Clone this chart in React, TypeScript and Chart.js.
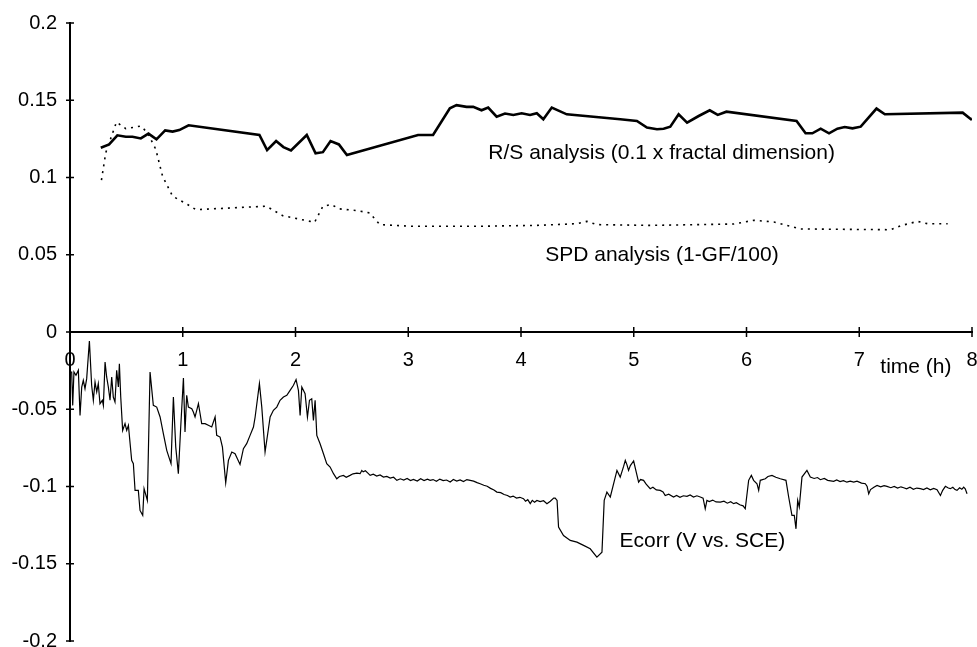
import React, { useEffect, useRef } from "react";
import { Chart, registerables } from "chart.js";
Chart.register(...registerables);

// R/S analysis (0.1 x fractal dimension)
const rsTime = [0.273, 0.347, 0.42, 0.495, 0.554, 0.628, 0.696, 0.767, 0.844, 0.91, 0.969, 1.052, 1.68, 1.748, 1.828, 1.893, 1.96, 2.1, 2.178, 2.243, 2.311, 2.385, 2.456, 3.087, 3.22, 3.369, 3.428, 3.517, 3.576, 3.65, 3.709, 3.784, 3.858, 3.932, 4.006, 4.08, 4.14, 4.198, 4.273, 4.406, 4.88, 5.028, 5.117, 5.206, 5.265, 5.324, 5.398, 5.473, 5.576, 5.674, 5.745, 5.822, 6.444, 6.524, 6.584, 6.658, 6.732, 6.806, 6.871, 6.94, 7.013, 7.153, 7.227, 7.917, 7.991, 8.0];
const rsValue = [0.1193, 0.1214, 0.1273, 0.1264, 0.1264, 0.1253, 0.1284, 0.1247, 0.1305, 0.1297, 0.1307, 0.1338, 0.1275, 0.1177, 0.1236, 0.1197, 0.1175, 0.1275, 0.1156, 0.1164, 0.1236, 0.1214, 0.1145, 0.1275, 0.1275, 0.1448, 0.1468, 0.1457, 0.1457, 0.1435, 0.1453, 0.1394, 0.1414, 0.1405, 0.1416, 0.1405, 0.1416, 0.1377, 0.1453, 0.1409, 0.1377, 0.1366, 0.1323, 0.1312, 0.1316, 0.1329, 0.1409, 0.1355, 0.1398, 0.1435, 0.1405, 0.1426, 0.1366, 0.1286, 0.1286, 0.1316, 0.1286, 0.1316, 0.1327, 0.1318, 0.1329, 0.1446, 0.1409, 0.142, 0.1377, 0.138];

// SPD analysis (1-GF/100)
const spdTime = [0.279, 0.317, 0.412, 0.495, 0.628, 0.687, 0.761, 0.821, 0.91, 1.043, 1.117, 1.74, 1.887, 2.169, 2.243, 2.317, 2.391, 2.539, 2.658, 2.747, 3.043, 3.576, 4.14, 4.495, 4.584, 4.673, 5.147, 5.887, 6.065, 6.243, 6.48, 7.28, 7.369, 7.517, 7.606, 7.784];
const spdValue = [0.0983, 0.116, 0.1359, 0.1316, 0.1333, 0.129, 0.1182, 0.1008, 0.0879, 0.0825, 0.0792, 0.0814, 0.0753, 0.071, 0.0814, 0.0825, 0.0797, 0.0786, 0.0771, 0.0695, 0.0684, 0.0684, 0.069, 0.0701, 0.0716, 0.0695, 0.069, 0.0699, 0.0723, 0.0712, 0.0667, 0.0662, 0.0688, 0.0716, 0.0701, 0.0701];

// Ecorr (V vs. SCE)
const ecorrTime = [0.0, 0.015, 0.024, 0.035, 0.053, 0.074, 0.089, 0.104, 0.118, 0.133, 0.148, 0.172, 0.192, 0.207, 0.222, 0.237, 0.251, 0.266, 0.287, 0.296, 0.311, 0.325, 0.34, 0.355, 0.37, 0.384, 0.399, 0.414, 0.429, 0.438, 0.45, 0.467, 0.488, 0.503, 0.518, 0.547, 0.562, 0.577, 0.606, 0.621, 0.645, 0.657, 0.686, 0.71, 0.739, 0.769, 0.799, 0.828, 0.858, 0.896, 0.917, 0.938, 0.961, 0.982, 1.006, 1.02, 1.035, 1.05, 1.08, 1.094, 1.109, 1.124, 1.139, 1.154, 1.168, 1.198, 1.227, 1.257, 1.287, 1.301, 1.331, 1.352, 1.381, 1.405, 1.435, 1.464, 1.508, 1.538, 1.567, 1.597, 1.627, 1.642, 1.68, 1.701, 1.73, 1.76, 1.775, 1.804, 1.834, 1.863, 1.893, 1.923, 1.952, 1.982, 2.005, 2.026, 2.041, 2.056, 2.085, 2.106, 2.124, 2.144, 2.159, 2.174, 2.189, 2.218, 2.248, 2.277, 2.307, 2.337, 2.366, 2.39, 2.425, 2.45, 2.484, 2.51, 2.544, 2.573, 2.588, 2.6, 2.62, 2.64, 2.662, 2.69, 2.72, 2.75, 2.78, 2.81, 2.84, 2.87, 2.899, 2.93, 2.96, 2.99, 3.02, 3.046, 3.08, 3.11, 3.14, 3.17, 3.194, 3.22, 3.25, 3.28, 3.31, 3.34, 3.372, 3.4, 3.43, 3.46, 3.49, 3.52, 3.549, 3.58, 3.61, 3.638, 3.67, 3.7, 3.73, 3.76, 3.786, 3.82, 3.85, 3.88, 3.904, 3.93, 3.96, 3.99, 4.022, 4.04, 4.06, 4.082, 4.1, 4.12, 4.141, 4.17, 4.2, 4.23, 4.26, 4.29, 4.303, 4.32, 4.333, 4.377, 4.437, 4.496, 4.555, 4.614, 4.673, 4.718, 4.738, 4.762, 4.792, 4.851, 4.88, 4.91, 4.925, 4.94, 4.954, 4.97, 4.999, 5.02, 5.043, 5.06, 5.087, 5.11, 5.146, 5.17, 5.2, 5.235, 5.26, 5.279, 5.31, 5.353, 5.38, 5.41, 5.44, 5.472, 5.5, 5.53, 5.56, 5.59, 5.615, 5.634, 5.649, 5.67, 5.7, 5.73, 5.768, 5.8, 5.83, 5.86, 5.886, 5.91, 5.94, 5.97, 5.989, 6.019, 6.043, 6.063, 6.093, 6.108, 6.122, 6.167, 6.19, 6.226, 6.26, 6.3, 6.35, 6.374, 6.403, 6.424, 6.439, 6.454, 6.468, 6.492, 6.536, 6.566, 6.6, 6.63, 6.655, 6.69, 6.72, 6.773, 6.8, 6.83, 6.86, 6.89, 6.92, 6.951, 6.98, 7.02, 7.054, 7.07, 7.084, 7.1, 7.13, 7.158, 7.19, 7.22, 7.246, 7.28, 7.31, 7.34, 7.37, 7.394, 7.42, 7.45, 7.48, 7.51, 7.542, 7.57, 7.6, 7.63, 7.66, 7.69, 7.72, 7.74, 7.764, 7.79, 7.808, 7.83, 7.85, 7.867, 7.89, 7.91, 7.926, 7.94, 7.956];
const ecorrValue = [-0.0259, -0.0259, -0.0475, -0.0259, -0.028, -0.0248, -0.054, -0.0356, -0.0313, -0.0367, -0.0302, -0.0058, -0.0345, -0.0442, -0.0324, -0.0388, -0.0334, -0.0464, -0.0442, -0.0475, -0.0194, -0.0291, -0.0356, -0.0442, -0.0291, -0.0421, -0.0453, -0.0248, -0.0356, -0.0205, -0.0421, -0.0637, -0.0593, -0.0637, -0.0604, -0.0831, -0.0852, -0.1025, -0.1025, -0.1155, -0.1187, -0.1014, -0.109, -0.0259, -0.0475, -0.0486, -0.055, -0.0658, -0.0766, -0.0852, -0.0421, -0.0745, -0.0917, -0.0615, -0.0298, -0.0647, -0.041, -0.0486, -0.0496, -0.0518, -0.055, -0.0507, -0.0464, -0.0529, -0.0593, -0.0593, -0.0604, -0.0615, -0.055, -0.0669, -0.068, -0.0745, -0.0976, -0.0831, -0.0777, -0.0788, -0.0857, -0.0755, -0.0723, -0.0669, -0.0615, -0.055, -0.0334, -0.0486, -0.0777, -0.0626, -0.055, -0.0507, -0.0486, -0.0442, -0.0421, -0.041, -0.0378, -0.0345, -0.0308, -0.0378, -0.054, -0.0356, -0.0399, -0.055, -0.0442, -0.0432, -0.0572, -0.0442, -0.0669, -0.0723, -0.0788, -0.0852, -0.0874, -0.0917, -0.095, -0.0935, -0.0928, -0.094, -0.0928, -0.0918, -0.0913, -0.0917, -0.0896, -0.0905, -0.0898, -0.0912, -0.0928, -0.092, -0.0932, -0.0925, -0.0939, -0.0935, -0.0946, -0.094, -0.096, -0.095, -0.0958, -0.0948, -0.0962, -0.0954, -0.0965, -0.095, -0.0962, -0.0952, -0.096, -0.0955, -0.0966, -0.0952, -0.0962, -0.0958, -0.0971, -0.0955, -0.0965, -0.0958, -0.0968, -0.0955, -0.096, -0.0965, -0.0975, -0.0982, -0.0992, -0.0998, -0.1012, -0.1022, -0.1036, -0.104, -0.1052, -0.1058, -0.1068, -0.1062, -0.1075, -0.107, -0.1079, -0.1095, -0.1085, -0.1111, -0.109, -0.1102, -0.109, -0.1098, -0.1092, -0.1111, -0.1095, -0.1075, -0.1075, -0.109, -0.1263, -0.1317, -0.1349, -0.136, -0.1381, -0.1403, -0.1457, -0.1425, -0.109, -0.1036, -0.1068, -0.0896, -0.0939, -0.087, -0.0831, -0.086, -0.0896, -0.0865, -0.0835, -0.09, -0.0971, -0.0955, -0.096, -0.0985, -0.1014, -0.1005, -0.1022, -0.1025, -0.1035, -0.1058, -0.105, -0.1068, -0.1058, -0.107, -0.106, -0.1064, -0.1055, -0.1068, -0.106, -0.1068, -0.1075, -0.1144, -0.109, -0.1098, -0.1088, -0.11, -0.1101, -0.1095, -0.1108, -0.1098, -0.1111, -0.1105, -0.1118, -0.1125, -0.1144, -0.096, -0.0928, -0.096, -0.0982, -0.1025, -0.096, -0.095, -0.0935, -0.0928, -0.094, -0.095, -0.096, -0.1068, -0.1187, -0.1187, -0.1274, -0.109, -0.1133, -0.0939, -0.0896, -0.0939, -0.0948, -0.0942, -0.0956, -0.0948, -0.096, -0.0967, -0.0958, -0.0968, -0.0962, -0.0972, -0.0965, -0.0971, -0.0965, -0.0978, -0.0982, -0.1, -0.1047, -0.102, -0.1005, -0.0993, -0.1002, -0.0995, -0.0999, -0.1008, -0.1, -0.101, -0.1002, -0.1008, -0.1015, -0.1005, -0.1018, -0.101, -0.1014, -0.102, -0.101, -0.1022, -0.1012, -0.1021, -0.1058, -0.1025, -0.0999, -0.101, -0.1014, -0.1005, -0.102, -0.1025, -0.1008, -0.1018, -0.1004, -0.1015, -0.1047];

const xTicks = [0, 1, 2, 3, 4, 5, 6, 7, 8];
const xTickLabels = ["0", "1", "2", "3", "4", "5", "6", "7", "8"];
const yTicks = [0.2, 0.15, 0.1, 0.05, 0, -0.05, -0.1, -0.15, -0.2];
const yTickLabels = ["0.2", "0.15", "0.1", "0.05", "0", "-0.05", "-0.1", "-0.15", "-0.2"];

const labelTexts = ["R/S analysis (0.1 x fractal dimension)", "SPD analysis (1-GF/100)", "Ecorr (V vs. SCE)", "time (h)"];
const labelTime = [3.71, 4.215, 4.874, 7.187];
const labelValue = [0.1155, 0.0495, -0.1355, -0.0228];

const FONT = "'Liberation Sans', Arial, sans-serif";

function pts(t: number[], v: number[]) {
  return t.map((x, i) => ({ x, y: v[i] }));
}

function labelFor(list: number[], labels: string[], value: number) {
  const i = list.findIndex((v) => Math.abs(v - value) < 1e-9);
  return i >= 0 ? labels[i] : "";
}

const overlayPlugin = {
  id: "overlay",
  afterDraw(chart: any) {
    const { ctx } = chart;
    const xs = chart.scales.x;
    const ys = chart.scales.y;
    const x0 = xs.getPixelForValue(0);
    const y0 = ys.getPixelForValue(0);
    ctx.save();
    ctx.strokeStyle = "#000";
    ctx.lineWidth = 1.5;
    ctx.beginPath();
    yTicks.forEach((v) => {
      const p = ys.getPixelForValue(v);
      ctx.moveTo(x0 - 4, p);
      ctx.lineTo(x0 + 4, p);
    });
    xTicks.forEach((v) => {
      const p = xs.getPixelForValue(v);
      ctx.moveTo(p, y0 - 5);
      ctx.lineTo(p, y0 + 5);
    });
    ctx.stroke();
    ctx.fillStyle = "#000";
    ctx.font = "21px " + FONT;
    ctx.textAlign = "left";
    ctx.textBaseline = "middle";
    labelTexts.forEach((txt, i) => {
      ctx.fillText(txt, xs.getPixelForValue(labelTime[i]), ys.getPixelForValue(labelValue[i]));
    });
    ctx.restore();
  },
};

export default function App() {
  const ref = useRef<HTMLCanvasElement | null>(null);
  useEffect(() => {
    if (!ref.current) return;
    const chart = new Chart(ref.current, {
      type: "line",
      data: {
        datasets: [
          {
            label: "R/S",
            data: pts(rsTime, rsValue),
            borderColor: "#000",
            borderWidth: 2.6,
            pointRadius: 0,
            tension: 0,
          },
          {
            label: "SPD",
            data: pts(spdTime, spdValue),
            borderColor: "#000",
            borderWidth: 1.6,
            borderDash: [2, 5],
            pointRadius: 0,
            tension: 0,
          },
          {
            label: "Ecorr",
            data: pts(ecorrTime, ecorrValue),
            borderColor: "#000",
            borderWidth: 1.2,
            pointRadius: 0,
            tension: 0,
          },
        ],
      },
      options: {
        animation: false,
        responsive: false,
        events: [],
        layout: { padding: { left: 0, right: 5, top: 23, bottom: 6 } },
        plugins: { legend: { display: false }, tooltip: { enabled: false } },
        scales: {
          x: {
            type: "linear",
            position: { y: 0 } as any,
            min: 0,
            max: 8,
            afterBuildTicks: (s: any) => {
              s.ticks = xTicks.map((v) => ({ value: v }));
            },
            afterFit: (s: any) => {
              s.paddingLeft = 0;
              s.paddingRight = 0;
            },
            grid: { display: false, drawTicks: false, tickLength: 0 },
            border: { display: true, color: "#000", width: 2 },
            ticks: {
              autoSkip: false,
              maxRotation: 0,
              padding: 16,
              color: "#000",
              font: { family: FONT, size: 20 },
              callback: (v: any) => labelFor(xTicks, xTickLabels, Number(v)),
            },
          },
          y: {
            type: "linear",
            position: "left",
            min: -0.2,
            max: 0.2,
            afterBuildTicks: (s: any) => {
              s.ticks = yTicks.map((v) => ({ value: v }));
            },
            afterFit: (s: any) => {
              s.width = 70;
              s.paddingTop = 0;
              s.paddingBottom = 0;
            },
            grid: { display: false, drawTicks: false, tickLength: 0 },
            border: { display: true, color: "#000", width: 2 },
            ticks: {
              autoSkip: false,
              padding: 13,
              color: "#000",
              font: { family: FONT, size: 20 },
              callback: (v: any) => labelFor(yTicks, yTickLabels, Number(v)),
            },
          },
        },
      },
      plugins: [overlayPlugin],
    });
    return () => chart.destroy();
  }, []);
  return (
    <div style={{ position: "absolute", left: 0, top: 0, width: 977, height: 647, background: "#fff" }}>
      <canvas ref={ref} width={977} height={647} style={{ display: "block" }} />
    </div>
  );
}
